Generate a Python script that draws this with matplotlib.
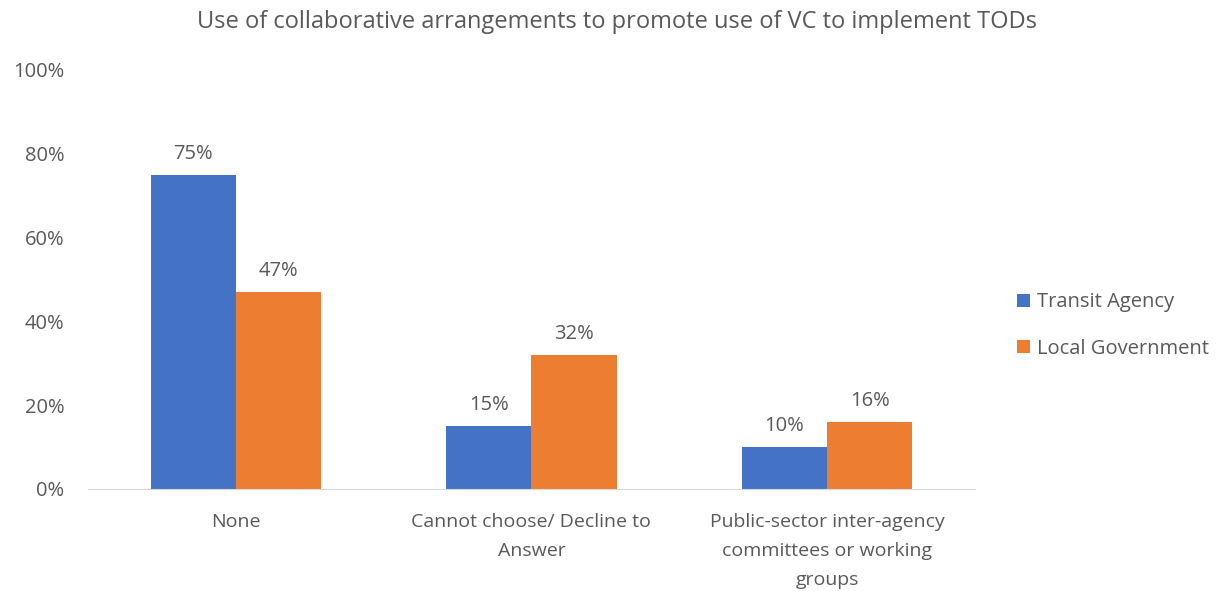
import numpy as np
import matplotlib
matplotlib.use("Agg")
import matplotlib.pyplot as plt

plt.rcParams['font.family'] = ['Open Sans', 'DejaVu Sans']

# chart data
categories = ["None", "Cannot choose/ Decline to\nAnswer",
              "Public-sector inter-agency\ncommittees or working\ngroups"]
transit_agency = [75, 15, 10]
local_government = [47, 32, 16]
series_names = ["Transit Agency", "Local Government"]
colors = ["#4472C4", "#ED7D31"]
text_col = "#595959"

fig = plt.figure(figsize=(12.25, 5.91), dpi=100)
ax = fig.add_axes([0.0718, 0.1726, 0.724, 0.709])

x = np.arange(len(categories))
width = 0.288

for offset, vals, name, col in [(-width / 2, transit_agency, series_names[0], colors[0]),
                                (width / 2, local_government, series_names[1], colors[1])]:
    bars = ax.bar(x + offset, vals, width, color=col, label=name)
    for b, v in zip(bars, vals):
        ax.annotate(f"{v}%", (b.get_x() + b.get_width() / 2, v),
                    xytext=(0, 8), textcoords="offset points",
                    ha="center", va="bottom", fontsize=14.5, color=text_col)

ax.set_xlim(-0.5, 2.5)
ax.set_ylim(0, 100)
ax.set_yticks(range(0, 101, 20))
ax.set_yticklabels([f"{t}%" for t in range(0, 101, 20)])
ax.set_xticks(x)
ax.set_xticklabels(categories, linespacing=1.8)
ax.tick_params(axis="both", length=0, colors=text_col)
ax.tick_params(axis="x", pad=17, labelsize=14)
ax.tick_params(axis="y", pad=17, labelsize=14.5)

for s in ["top", "right", "left"]:
    ax.spines[s].set_visible(False)
ax.spines["bottom"].set_color("#D9D9D9")

fig.text(0.504, 1 - 22 / 591,
         "Use of collaborative arrangements to promote use of VC to implement TODs",
         ha="center", va="center", fontsize=17, color=text_col)

ax.legend(loc="center left", frameon=False,
          fontsize=14.5, labelspacing=1.3, handlelength=0.63, handleheight=0.63,
          handletextpad=0.35, borderpad=0, borderaxespad=0, labelcolor=text_col)
ax.get_legend().set_bbox_to_anchor((1.0474, 0.39), transform=ax.transAxes)

fig.savefig("out.png", dpi=100)
